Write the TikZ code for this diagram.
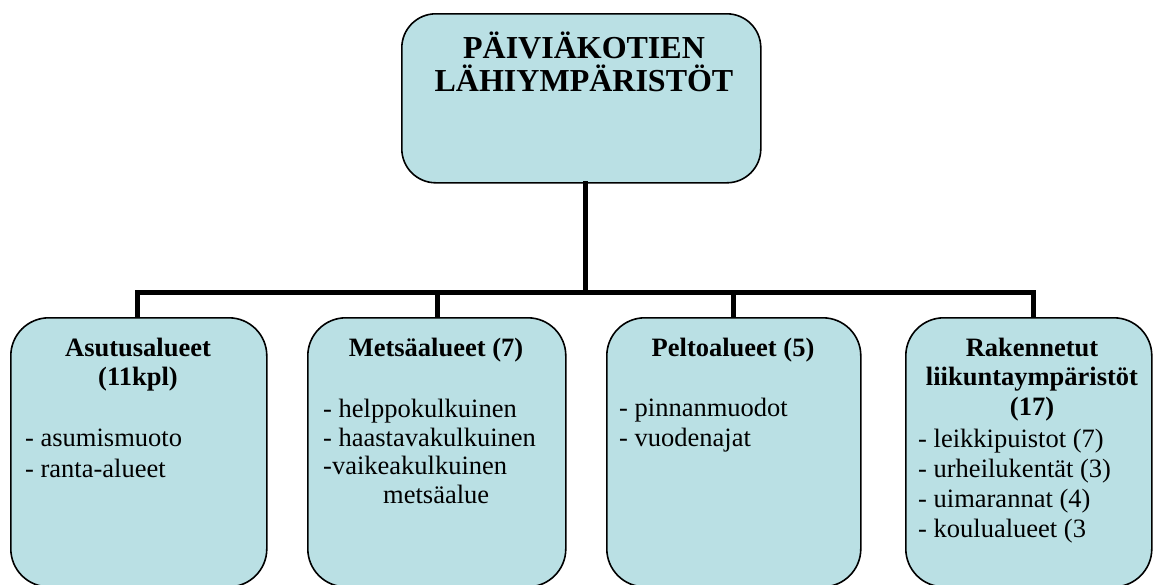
\documentclass[tikz,border=0pt]{standalone}
\usepackage{fontspec}
\setmainfont{Liberation Serif}
\definecolor{boxfill}{RGB}{186,224,228}
\tikzset{
  box/.style={draw=black, line width=1.6pt, fill=boxfill, rounded corners=38pt, anchor=north west, inner sep=0pt},
  conn/.style={draw=black, line width=5pt, line join=miter, line cap=rect},
  ttl/.style={font=\fontsize{32}{33}\selectfont\bfseries, anchor=base, inner sep=0pt},
  hdr/.style={font=\fontsize{26.5}{29}\selectfont\bfseries, anchor=base, inner sep=0pt},
  itm/.style={font=\fontsize{26.5}{29}\selectfont, anchor=base west, inner sep=0pt},
}
\begin{document}
\begin{tikzpicture}[x=1pt,y=-1pt]
\clip (0,0) rectangle (1154,584);
\fill[white] (0,0) rectangle (1154,584);
% boxes
\node[box, rounded corners=34pt, minimum width=359pt, minimum height=169pt] (top) at (401,13) {};
\node[box, minimum width=256pt, minimum height=269pt] (b1) at (10,317) {};
\node[box, minimum width=258pt, minimum height=269pt] (b2) at (307,317) {};
\node[box, minimum width=254pt, minimum height=269pt] (b3) at (606,317) {};
\node[box, minimum width=246pt, minimum height=269pt] (b4) at (905,317) {};
% connectors
\coordinate (hub) at (585,292);
\coordinate (d1) at (137,292);
\coordinate (d2) at (437,292);
\coordinate (d3) at (733,292);
\coordinate (d4) at (1033,292);
\draw[conn] (top.south -| hub) -- (hub);
\draw[conn, line cap=butt] (b1.north -| d1) -- (d1) -- (d4) -- (b4.north -| d4);
\draw[conn, line cap=butt] (d2) -- (b2.north -| d2);
\draw[conn, line cap=butt] (d3) -- (b3.north -| d3);
% title
\node[ttl] (t1) at (584,58) {PÄIVIÄKOTIEN};
\node[ttl] (t2) at (584,91) {LÄHIYMPÄRISTÖT};
% box 1
\node[hdr] (h1a) at (138,356) {Asutusalueet};
\node[hdr] (h1b) at (138,385) {(11kpl)};
\node[itm] (i1a) at (25,446) {- asumismuoto};
\node[itm] (i1b) at (25,477) {- ranta-alueet};
% box 2
\node[hdr] (h2a) at (436,356) {Metsäalueet (7)};
\node[itm] (i2a) at (323,417) {- helppokulkuinen};
\node[itm] (i2b) at (323,446) {- haastavakulkuinen};
\node[itm] (i2c) at (323,474) {-vaikeakulkuinen};
\node[itm] (i2d) at (383,503) {metsäalue};
% box 3
\node[hdr] (h3a) at (733,356) {Peltoalueet (5)};
\node[itm] (i3a) at (619,416) {- pinnanmuodot};
\node[itm] (i3b) at (619,446) {- vuodenajat};
% box 4
\node[hdr] (h4a) at (1032,356) {Rakennetut};
\node[hdr] (h4b) at (1032,385) {liikuntaympäristöt};
\node[hdr] (h4c) at (1032,415) {(17)};
\node[itm] (i4a) at (918,447) {- leikkipuistot (7)};
\node[itm] (i4b) at (918,477) {- urheilukentät (3)};
\node[itm] (i4c) at (918,507) {- uimarannat (4)};
\node[itm] (i4d) at (918,537) {- koulualueet (3};
\end{tikzpicture}
\end{document}
